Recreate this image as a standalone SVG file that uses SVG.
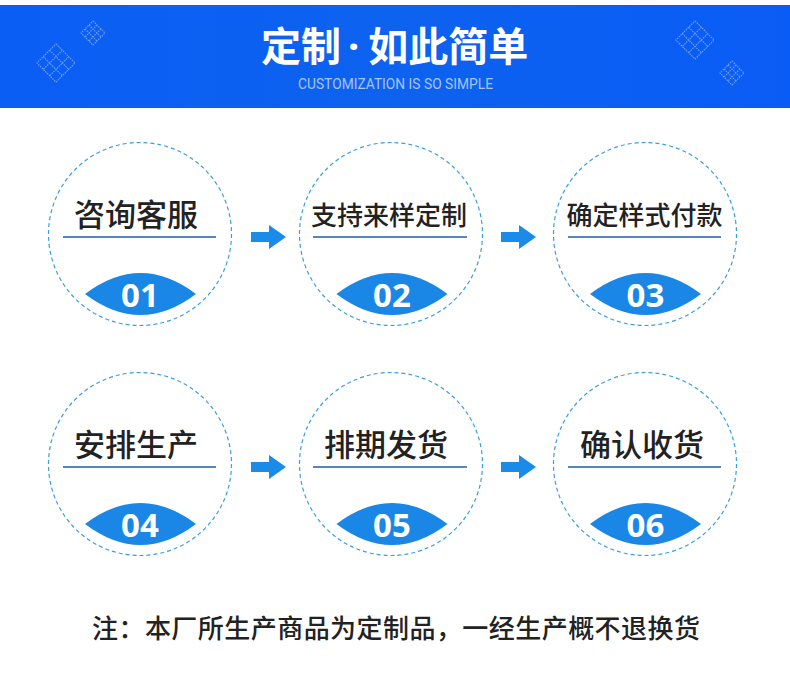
<svg xmlns="http://www.w3.org/2000/svg" width="790" height="683" viewBox="0 0 790 683">
<defs>
<linearGradient id="hdr" x1="0" y1="0" x2="1" y2="0">
<stop offset="0" stop-color="#0b5ef5"/>
<stop offset="0.5" stop-color="#0d62ef"/>
<stop offset="1" stop-color="#0a5cf6"/>
</linearGradient>
<path id="gridBig" d="M-13.5,-13.5H13.5V13.5H-13.5Z M-4.5,-13.5V13.5 M4.5,-13.5V13.5 M-13.5,-4.5H13.5 M-13.5,4.5H13.5"/>
<path id="gridSmall" d="M-8.5,-8.5H8.5V8.5H-8.5Z M-2.83,-8.5V8.5 M2.83,-8.5V8.5 M-8.5,-2.83H8.5 M-8.5,2.83H8.5"/>
<path id="arrow" d="M0,-5 H18 V-12 L35,0 L18,12 V5 H0 Z"/>
<path id="lens" d="M-55.5,0 Q0,-42 55.5,0 Q0,42 -55.5,0 Z"/>
</defs>
<style>
.grid{fill:none;stroke:#7ea8f6;stroke-width:1.1;stroke-dasharray:1.6 0.9;opacity:0.85}
.ring{fill:#fff;stroke:#3a9ee2;stroke-width:1.2;stroke-dasharray:4 3}
.rule{stroke:#1d5fa9;stroke-width:1.5}
.lens{fill:#1a87e6}
.arr{fill:#1a8be8}
.lbl{font-family:"Noto Sans CJK SC","Noto Sans",sans-serif;fill:#222;text-anchor:middle}
.big{font-size:31px;font-weight:500}
.mid{font-size:26px;font-weight:500}
.num{font-family:"Noto Sans","Open Sans",sans-serif;font-weight:700;font-size:33px;fill:#fff;text-anchor:middle}
.ttl{font-family:"Noto Sans CJK SC",sans-serif;font-weight:700;font-size:40px;fill:#fff}
</style>
<rect width="790" height="683" fill="#fff"/>
<g id="header">
<rect x="0" y="5" width="790" height="103" fill="url(#hdr)"/>
<use href="#gridBig" class="grid" transform="translate(56,63) rotate(45)"/>
<use href="#gridSmall" class="grid" transform="translate(93,33) rotate(45)"/>
<use href="#gridBig" class="grid" transform="translate(695,40) rotate(45)"/>
<use href="#gridSmall" class="grid" transform="translate(732,73) rotate(45)"/>
<text class="ttl" x="261" y="61">定制<tspan font-family="'Noto Sans',sans-serif" dx="7">·</tspan><tspan dx="9">如此简单</tspan></text>
<text x="395.5" y="89" text-anchor="middle" font-family="Roboto,'Noto Sans',sans-serif" font-size="14" fill="#a9c4f7" textLength="195" lengthAdjust="spacingAndGlyphs">CUSTOMIZATION IS SO SIMPLE</text>
</g>
<g id="connectors">
<use href="#arrow" class="arr" transform="translate(251,237)"/>
<use href="#arrow" class="arr" transform="translate(501,237)"/>
<use href="#arrow" class="arr" transform="translate(251,467)"/>
<use href="#arrow" class="arr" transform="translate(501,467)"/>
</g>
<g id="step1">
<circle class="ring" cx="140" cy="234" r="91.5"/>
<text class="lbl big" x="136" y="226">咨询客服</text>
<line class="rule" x1="63" y1="237" x2="216" y2="237"/>
<use href="#lens" class="lens" transform="translate(140.5,294)"/>
<text class="num" x="140" y="307">01</text>
</g>
<g id="step2">
<circle class="ring" cx="391" cy="234" r="91.5"/>
<text class="lbl mid" x="389" y="225">支持来样定制</text>
<line class="rule" x1="313" y1="237" x2="467" y2="237"/>
<use href="#lens" class="lens" transform="translate(392,294)"/>
<text class="num" x="392" y="307">02</text>
</g>
<g id="step3">
<circle class="ring" cx="645" cy="234" r="91.5"/>
<text class="lbl mid" x="644.5" y="225">确定样式付款</text>
<line class="rule" x1="568" y1="237" x2="721" y2="237"/>
<use href="#lens" class="lens" transform="translate(645.5,294)"/>
<text class="num" x="645.5" y="307">03</text>
</g>
<g id="step4">
<circle class="ring" cx="140" cy="464" r="91.5"/>
<text class="lbl big" x="136" y="456">安排生产</text>
<line class="rule" x1="63" y1="467" x2="216" y2="467"/>
<use href="#lens" class="lens" transform="translate(140.5,524)"/>
<text class="num" x="140" y="537">04</text>
</g>
<g id="step5">
<circle class="ring" cx="391" cy="464" r="91.5"/>
<text class="lbl big" x="386" y="456">排期发货</text>
<line class="rule" x1="313" y1="467" x2="467" y2="467"/>
<use href="#lens" class="lens" transform="translate(392,524)"/>
<text class="num" x="392" y="537">05</text>
</g>
<g id="step6">
<circle class="ring" cx="645" cy="464" r="91.5"/>
<text class="lbl big" x="642" y="456">确认收货</text>
<line class="rule" x1="568" y1="467" x2="721" y2="467"/>
<use href="#lens" class="lens" transform="translate(645.5,524)"/>
<text class="num" x="645.5" y="537">06</text>
</g>
<g id="footer">
<text x="92" y="638" font-family="'Noto Sans CJK SC',sans-serif" font-size="26" font-weight="500" fill="#222" textLength="608" lengthAdjust="spacing">注：本厂所生产商品为定制品，一经生产概不退换货</text>
</g>
</svg>
